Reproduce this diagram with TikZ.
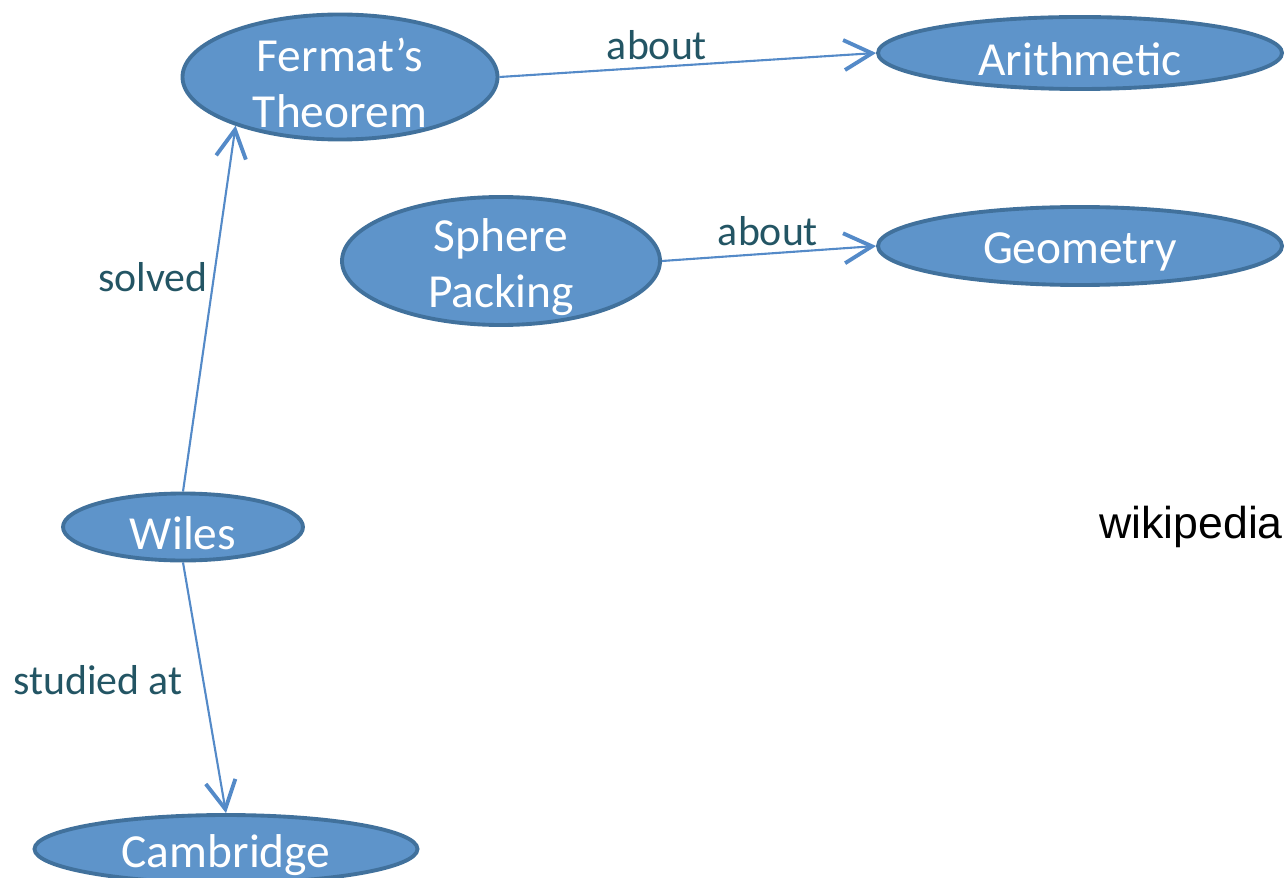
\documentclass[tikz,border=0pt]{standalone}
\usepackage{fontspec}
\setmainfont{Carlito}
\newfontfamily\wikifont{Liberation Sans}
\usepackage{xcolor}
\usepackage{tikz}
\usetikzlibrary{shapes.geometric,arrows.meta}
\definecolor{nodefill}{RGB}{94,148,202}
\definecolor{nodeline}{RGB}{65,113,156}
\definecolor{edgeblue}{RGB}{84,138,200}
\definecolor{reltext}{RGB}{35,85,100}
\tikzstyle{concept}=[fill=nodefill, draw=nodeline, line width=1.1pt, shape=ellipse, inner sep=0pt]
\tikzstyle{concept text}=[text=white, align=center, yshift=-0.06cm, font=\fontsize{13.5}{15.8}\selectfont]
\tikzstyle{relation}=[text=reltext, font=\fontsize{11.9}{14}\selectfont, inner sep=0pt]
\tikzstyle{rel edge}=[draw=edgeblue, line width=0.6pt, -{Straight Barb[length=0.28cm, width=0.3cm, line width=1.1pt]}]
\pgfdeclarelayer{nodelayer}
\pgfdeclarelayer{edgelayer}
\pgfsetlayers{edgelayer,nodelayer,main}

\begin{document}
\begin{tikzpicture}
    	\useasboundingbox (0, 0) rectangle (12.88, 8.77);
    	\begin{pgfonlayer}{nodelayer}
    		\node [style=concept, minimum width=3.15cm, minimum height=1.25cm, label={[concept text]center:Fermat's\\Theorem}] (0) at (3.40, 8.00) {};
    		\node [style=concept, minimum width=4.04cm, minimum height=0.72cm, label={[concept text]center:Arithmetic}] (1) at (10.80, 8.24) {};
    		\node [style=concept, minimum width=3.18cm, minimum height=1.28cm, label={[concept text]center:Sphere\\Packing}] (2) at (5.01, 6.16) {};
    		\node [style=concept, minimum width=4.04cm, minimum height=0.78cm, label={[concept text]center:Geometry}] (3) at (10.80, 6.31) {};
    		\node [style=concept, minimum width=2.40cm, minimum height=0.67cm, label={[concept text]center:Wiles}] (4) at (1.83, 3.50) {};
    		\node [style=concept, minimum width=3.83cm, minimum height=0.68cm, label={[concept text]center:Cambridge}] (5) at (2.26, 0.28) {};
    		\node [style=relation] (6) at (6.57, 8.32) {about};
    		\node [style=relation] (7) at (7.68, 6.46) {about};
    		\node [style=relation] (8) at (1.53, 6.00) {solved};
    		\node [style=relation] (9) at (0.98, 1.97) {studied at};
    		\node [font=\wikifont\fontsize{12.7}{15}\selectfont] (10) at (11.91, 3.50) {wikipedia};
    	\end{pgfonlayer}
    	\begin{pgfonlayer}{edgelayer}
    		\draw [style=rel edge] (0.east) to (1.west);
    		\draw [style=rel edge] (2.east) to (3.west);
    		\draw [style=rel edge] (4.north) to (0.205);
    		\draw [style=rel edge] (4.south) to (5.north);
    	\end{pgfonlayer}
\end{tikzpicture}
\end{document}
